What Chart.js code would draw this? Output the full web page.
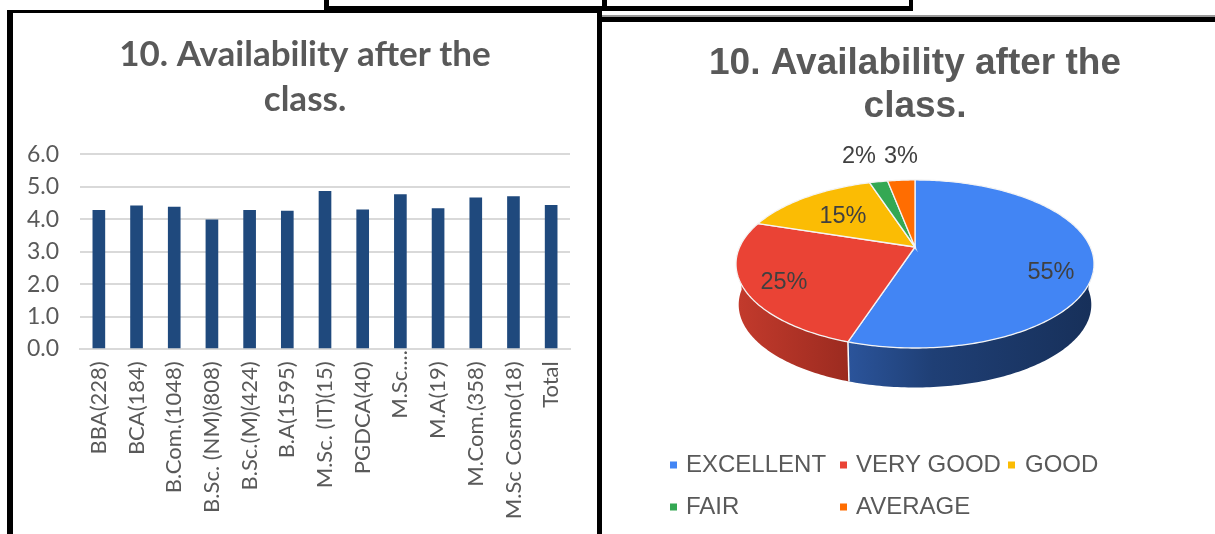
<!DOCTYPE html>
<html><head><meta charset="utf-8">
<style>
html,body{margin:0;padding:0;background:#fff;width:1215px;height:534px;overflow:hidden}
.f{position:absolute;background:#000}
canvas{display:block}
#a{position:absolute;left:13px;top:13px;width:584px;height:521px}
#b{position:absolute;left:602px;top:22px;width:613px;height:512px}
</style>
<script src="https://cdn.jsdelivr.net/npm/chart.js@4"></script>
</head><body>
<div class="f" style="left:7px;top:10px;width:6px;height:524px"></div>
<div class="f" style="left:7px;top:10px;width:595px;height:3px"></div>
<div class="f" style="left:324px;top:0;width:5px;height:12px"></div>
<div class="f" style="left:324px;top:6px;width:589px;height:5px"></div>
<div class="f" style="left:602px;top:0;width:5px;height:11px"></div>
<div class="f" style="left:909px;top:0;width:4px;height:10px"></div>
<div class="f" style="left:597px;top:11px;width:5px;height:523px"></div>
<div class="f" style="left:597px;top:17px;width:618px;height:5px"></div>
<div class="f" style="left:602px;top:15px;width:613px;height:2px;background:#999"></div>
<div id="a"><canvas id="barChart"></canvas></div>
<div id="b"><canvas id="pieChart"></canvas></div>
<script>
const titleLines = ['10. Availability after the', 'class.'];
const programmes = ['BBA(228)','BCA(184)','B.Com.(1048)','B.Sc. (NM)(808)','B.Sc.(M)(424)','B.A(1595)','M.Sc. (IT)(15)','PGDCA(40)','M.Sc....','M.A(19)','M.Com.(358)','M.Sc Cosmo(18)','Total'];
const scores = [4.27,4.41,4.37,3.98,4.27,4.25,4.86,4.29,4.76,4.33,4.66,4.70,4.43];
const ratings = ['EXCELLENT','VERY GOOD','GOOD','FAIR','AVERAGE'];
const shares = [55,25,15,2,3];
const sliceColors = ['#4285F4','#EA4335','#FBBC04','#34A853','#FF6D01'];

Chart.defaults.animation = false;
const centreTitle = { id: 'centreTitle', afterLayout(chart) { chart.titleBlock.left = 0; chart.titleBlock.right = chart.width; } };
new Chart(document.getElementById('barChart'), {
  type: 'bar',
  data: { labels: programmes, datasets: [{ data: scores, backgroundColor: '#1F497D', barThickness: 12 }] },
  options: {
    responsive: true, maintainAspectRatio: false,
    layout: { padding: { left: 0, right: 27, top: 0, bottom: 0 } },
    plugins: {
      legend: { display: false }, tooltip: { enabled: false },
      title: { display: true, text: titleLines, color: '#595959',
        font: { family: 'Lato', size: 35, weight: 'bold', lineHeight: 1.29 },
        padding: { top: 19, bottom: 32 } }
    },
    scales: {
      x: { grid: { display: false, tickLength: 0 }, border: { color: '#D9D9D9', width: 2 },
        afterFit(s) { s.height = 185; },
        ticks: { color: '#595959', font: { family: 'Lato', size: 22 }, minRotation: 90, maxRotation: 90, autoSkip: false, padding: 1,
          callback(v) { const s = this.getLabelForValue(v); return s.endsWith('....') ? s : s + '\u00A0\u00A0'; } } },
      y: { min: 0, max: 6, grid: { color: '#D9D9D9', lineWidth: 2, drawTicks: false }, border: { display: false },
        afterFit(s) { s.width = 67; },
        ticks: { stepSize: 1, color: '#595959', padding: 21, font: { family: 'Lato', size: 23 }, callback: v => v.toFixed(1) } }
    }
  },
  plugins: [centreTitle]
});

/* Tilted-disc projection of the library's arc angles */
const disc = { cx: 313, apex: 225, R: 175.3, k: 80.6, p: 0.202, depth: 41, shrink: 0.985 };
function proj(a, lower) {
  const u = Math.cos(a), v = Math.sin(a), d = 1 - disc.p * v, s = lower ? disc.shrink : 1;
  return [disc.cx + s * disc.R * u / d, disc.apex + (lower ? disc.depth : 0) + s * disc.k * v / d];
}
function rim(ctx, a0, a1, lower) {
  const n = Math.max(2, Math.ceil(Math.abs(a1 - a0) * 60));
  for (let i = 0; i <= n; i++) { const q = proj(a0 + (a1 - a0) * i / n, lower); ctx.lineTo(q[0], q[1]); }
}
const wallStops = [
  [['0', '#2B549B'], ['.35', '#1F3F75'], ['1', '#17305A']],
  [['0', '#C23A2C'], ['1', '#9C2B20']]
];
const discPlugin = {
  id: 'disc',
  beforeDatasetDraw(chart) {
    const ctx = chart.ctx, arcs = chart.getDatasetMeta(0).data;
    const lo = 0.02, hi = Math.PI - 0.02;
    ctx.save();
    arcs.forEach((arc, i) => {
      const a0 = Math.max(arc.startAngle, lo), a1 = Math.min(arc.endAngle, hi);
      if (a1 <= a0) return;
      const L = proj(a1, false), Rr = proj(a0, false);
      const g = ctx.createLinearGradient(L[0], 0, Rr[0], 0);
      (wallStops[i] || []).forEach(s => g.addColorStop(+s[0], s[1]));
      ctx.beginPath();
      const p0 = proj(a0, false); ctx.moveTo(p0[0], p0[1]);
      rim(ctx, a0, a1, false); rim(ctx, a1, a0, true); ctx.closePath();
      ctx.fillStyle = g; ctx.fill();
    });
    const dv = proj(arcs[0].endAngle, false), dw = proj(arcs[0].endAngle, true);
    ctx.strokeStyle = '#fff'; ctx.lineWidth = 1.5;
    ctx.beginPath(); ctx.moveTo(dv[0], dv[1]); ctx.lineTo(dw[0], dw[1]); ctx.stroke();
    arcs.forEach((arc, i) => {
      ctx.beginPath(); ctx.moveTo(disc.cx, disc.apex);
      rim(ctx, arc.startAngle, arc.endAngle, false); ctx.closePath();
      ctx.fillStyle = sliceColors[i]; ctx.fill();
      ctx.strokeStyle = '#F4F4F4'; ctx.lineWidth = 1.3; ctx.stroke();
    });
    ctx.restore();
    return false;
  },
  afterDatasetsDraw(chart) {
    const ctx = chart.ctx;
    const at = [[449,251],[182,261],[241,195],[257,135],[299,135]];
    ctx.save();
    ctx.font = '23.5px "Liberation Sans"'; ctx.fillStyle = '#404040'; ctx.textAlign = 'center'; ctx.textBaseline = 'middle';
    shares.forEach((s, i) => ctx.fillText(s + '%', at[i][0], at[i][1]));
    const cols = [[68,84,443],[238,254,443],[406,423,443],[68,84,485],[238,254,485]];
    ctx.font = '24px "Liberation Sans"'; ctx.fillStyle = '#595959'; ctx.textAlign = 'left';
    ratings.forEach((r, i) => {
      const c = cols[i];
      ctx.fillStyle = sliceColors[i]; ctx.fillRect(c[0], c[2] - 3.5, 7, 7);
      ctx.fillStyle = '#595959'; ctx.fillText(r, c[1], c[2]);
    });
    ctx.restore();
  }
};
new Chart(document.getElementById('pieChart'), {
  type: 'pie',
  data: { labels: ratings, datasets: [{ data: shares, backgroundColor: sliceColors, borderWidth: 0 }] },
  options: {
    responsive: true, maintainAspectRatio: false,
    layout: { padding: { left: 13 } },
    plugins: {
      legend: { display: false }, tooltip: { enabled: false },
      title: { display: true, text: titleLines, color: '#595959',
        font: { family: 'Liberation Sans', size: 37, weight: 'bold', lineHeight: 1.16 },
        padding: { top: 20, bottom: 4 } }
    }
  },
  plugins: [discPlugin]
});
</script>
</body></html>
